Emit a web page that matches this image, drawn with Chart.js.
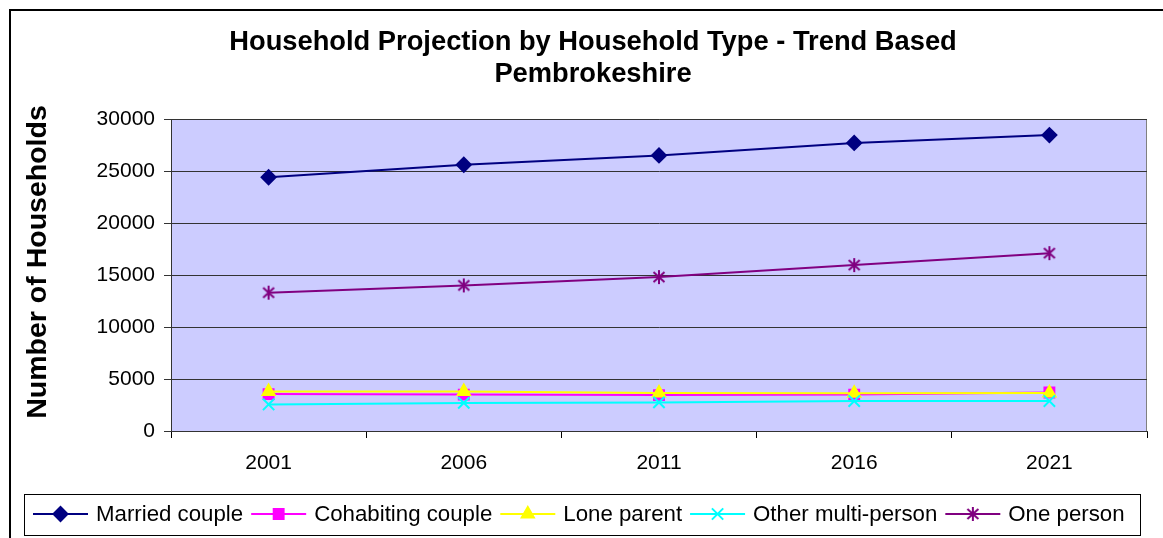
<!DOCTYPE html>
<html>
<head>
<meta charset="utf-8">
<script src="https://cdn.jsdelivr.net/npm/chart.js@4"></script>
<style>
  html, body { margin: 0; padding: 0; background: #fff; }
  canvas { display: block; }
</style>
</head>
<body>
<canvas id="householdChart" width="1163" height="538"></canvas>
<script>
// chart values
var years = ['2001', '2006', '2011', '2016', '2021'];
var marriedCouple = [24400, 25600, 26500, 27700, 28450];
var cohabitingCouple = [3550, 3500, 3450, 3500, 3700];
var loneParent = [3800, 3800, 3650, 3630, 3650];
var otherMultiPerson = [2550, 2700, 2750, 2880, 2880];
var onePerson = [13300, 14000, 14800, 15950, 17100];
var titleLines = ['Household Projection by Household Type - Trend Based', 'Pembrokeshire'];
var yAxisTitle = 'Number of Households';

var FONT = '"Liberation Sans", Arial, sans-serif';

// Excel style asterisk marker (X plus a vertical bar)
function asteriskMarker(color) {
    var c = document.createElement('canvas');
    c.width = 16; c.height = 16;
    var g = c.getContext('2d');
    g.strokeStyle = color;
    g.lineWidth = 2;
    g.beginPath();
    g.moveTo(2.5, 3); g.lineTo(13.5, 13);
    g.moveTo(13.5, 3); g.lineTo(2.5, 13);
    g.moveTo(8, 1); g.lineTo(8, 15);
    g.stroke();
    return c;
}

function series(label, data, color, style, radius, order) {
    return {
        label: label,
        data: data,
        borderColor: color,
        backgroundColor: color,
        borderWidth: 2,
        pointStyle: style,
        pointRadius: radius,
        pointHoverRadius: radius,
        pointBackgroundColor: color,
        pointBorderColor: color,
        pointBorderWidth: 2,
        tension: 0,
        order: order
    };
}

// draws frame, plot background, titles and the boxed legend
var decorations = {
    id: 'decorations',
    beforeDraw: function (chart) {
        var ctx = chart.ctx, a = chart.chartArea;
        ctx.save();
        ctx.fillStyle = '#fff';
        ctx.fillRect(0, 0, chart.width, chart.height);
        ctx.strokeStyle = '#000';
        ctx.lineWidth = 2;
        ctx.beginPath();
        ctx.moveTo(10, chart.height + 5);
        ctx.lineTo(10, 10);
        ctx.lineTo(chart.width + 5, 10);
        ctx.stroke();
        ctx.fillStyle = '#CCCCFF';
        ctx.fillRect(a.left, a.top, a.right - a.left, a.bottom - a.top);
        ctx.strokeStyle = '#808080';
        ctx.lineWidth = 1;
        ctx.beginPath();
        ctx.moveTo(a.left, a.top + 0.5);
        ctx.lineTo(a.right - 0.5, a.top + 0.5);
        ctx.lineTo(a.right - 0.5, a.bottom);
        ctx.stroke();
        ctx.restore();
    },
    afterDraw: function (chart) {
        var ctx = chart.ctx;
        ctx.save();
        // main title
        ctx.fillStyle = '#000';
        ctx.textAlign = 'center';
        ctx.textBaseline = 'middle';
        ctx.font = 'bold 27.3px ' + FONT;
        ctx.fillText(titleLines[0], 593, 42);
        ctx.fillText(titleLines[1], 593, 74);
        // y axis title
        ctx.save();
        ctx.translate(38, 262);
        ctx.rotate(-Math.PI / 2);
        ctx.font = 'bold 28.5px ' + FONT;
        ctx.fillText(yAxisTitle, 0, 0);
        ctx.restore();
        // legend box
        ctx.strokeStyle = '#000';
        ctx.lineWidth = 1;
        ctx.strokeRect(24.5, 494.5, 1116, 41);
        var x = 33, y = 514;
        ctx.font = '22.25px ' + FONT;
        chart.data.datasets.forEach(function (ds) {
            ctx.strokeStyle = ds.borderColor;
            ctx.lineWidth = 2;
            ctx.beginPath();
            ctx.moveTo(x, y);
            ctx.lineTo(x + 55, y);
            ctx.stroke();
            ctx.fillStyle = ds.pointBackgroundColor;
            ctx.strokeStyle = ds.pointBorderColor;
            ctx.lineWidth = ds.pointBorderWidth;
            Chart.helpers.drawPoint(ctx, {
                pointStyle: ds.pointStyle,
                radius: ds.pointRadius,
                rotation: 0,
                borderWidth: ds.pointBorderWidth
            }, x + 27.5, y);
            ctx.fillStyle = '#000';
            ctx.textAlign = 'left';
            ctx.textBaseline = 'middle';
            ctx.fillText(ds.label, x + 63, y + 1);
            x += 63 + ctx.measureText(ds.label).width + 8;
        });
        ctx.restore();
    }
};

new Chart(document.getElementById('householdChart').getContext('2d'), {
    type: 'line',
    data: {
        labels: years,
        datasets: [
            series('Married couple', marriedCouple, '#000080', 'rectRot', 7, 5),
            series('Cohabiting couple', cohabitingCouple, '#FF00FF', 'rect', 7, 4),
            series('Lone parent', loneParent, '#FFFF00', 'triangle', 7, 3),
            series('Other multi-person', otherMultiPerson, '#00FFFF', 'crossRot', 8, 2),
            series('One person', onePerson, '#800080', asteriskMarker('#800080'), 7, 1)
        ]
    },
    options: {
        responsive: false,
        animation: false,
        layout: { padding: { left: 9, top: 119, right: 16, bottom: 0 } },
        plugins: {
            legend: { display: false },
            title: { display: false },
            tooltip: { enabled: false }
        },
        scales: {
            x: {
                offset: true,
                afterFit: function (scale) { scale.height = 107; },
                grid: {
                    offset: true,
                    drawOnChartArea: false,
                    drawTicks: true,
                    tickLength: 7,
                    color: '#000'
                },
                border: { color: '#333', width: 1 },
                ticks: {
                    color: '#000',
                    padding: 13,
                    maxRotation: 0,
                    font: { family: FONT, size: 21 }
                }
            },
            y: {
                min: 0,
                max: 30000,
                afterFit: function (scale) { scale.width = 162; },
                grid: {
                    color: '#333',
                    lineWidth: 1,
                    tickLength: 7
                },
                border: { color: '#333', width: 1 },
                ticks: {
                    stepSize: 5000,
                    color: '#000',
                    padding: 9,
                    font: { family: FONT, size: 21 },
                    callback: function (v) { return String(v); }
                }
            }
        }
    },
    plugins: [decorations]
});
</script>
</body>
</html>
